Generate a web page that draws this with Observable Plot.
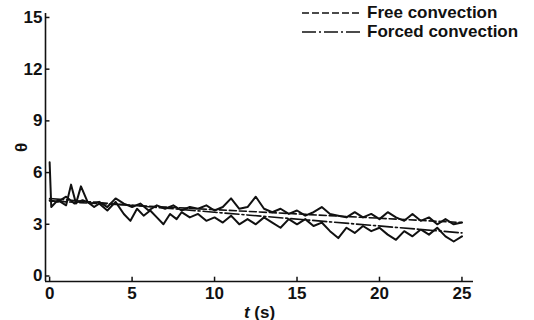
<!DOCTYPE html>
<html><head><meta charset="utf-8">
<script src="https://cdn.jsdelivr.net/npm/d3@7"></script>
<script src="https://cdn.jsdelivr.net/npm/@observablehq/plot@0.6"></script>
<style>
body{margin:0;background:#fff;}
#wrap{position:relative;width:534px;height:320px;font-family:"Liberation Sans",Arial,sans-serif;font-weight:bold;}
#legend{position:absolute;left:302px;top:3px;font-size:17px;color:#111;line-height:19px;}
.row{display:flex;align-items:center;height:19px;white-space:nowrap;}
.row svg{margin-right:5px;}
</style></head><body><div id="wrap"><div id="legend"></div></div>
<script>
const xTicks = [0, 5, 10, 15, 20, 25];
const yTicks = [0, 3, 6, 9, 12, 15];

const tFree = [0,0.5,1,1.5,2,2.5,3,3.5,4,4.5,5,5.5,6,6.5,7,7.5,8,8.5,9,9.5,10,10.5,11,11.5,12,12.5,13,13.5,14,14.5,15,15.5,16,16.5,17,17.5,18,18.5,19,19.5,20,20.5,21,21.5,22,22.5,23,23.5,24,24.5,25];
const thetaFree = [4.4,4.3,4.6,4.2,4.4,4.2,4.3,4.0,4.5,4.2,4.0,4.2,3.8,4.1,3.9,4.1,3.8,4.0,3.9,4.1,3.8,4.0,4.5,3.9,4.0,4.6,3.9,3.7,3.9,3.6,3.8,3.5,3.7,4.0,3.6,3.5,3.4,3.7,3.4,3.6,3.3,3.7,3.4,3.2,3.6,3.2,3.4,3.0,3.3,3.0,3.1];

const tForced = [0,0.1,0.5,1,1.3,1.6,1.9,2.3,2.7,3,3.5,4,4.5,4.9,5.3,5.7,6.1,6.5,6.9,7.3,7.7,8,8.5,9,9.5,10,10.5,11,11.5,12,12.5,13,13.5,14,14.5,15,15.5,16,16.5,17,17.5,18,18.5,19,19.5,20,20.5,21,21.5,22,22.5,23,23.5,24,24.5,25];
const thetaForced = [6.6,4.0,4.4,4.1,5.3,4.2,5.2,4.3,4.0,4.2,3.8,4.3,3.6,3.2,3.9,3.5,3.8,3.4,3.0,3.6,3.3,3.7,3.4,3.6,3.2,3.4,3.1,3.5,3.0,3.3,3.0,3.4,3.1,2.8,3.3,3.0,3.3,2.9,3.1,2.6,2.2,2.8,2.5,2.9,2.6,2.8,2.4,2.1,2.6,2.3,2.7,2.4,2.8,2.3,2.0,2.3];

const fitT = [0, 25];
const fitFree = [4.35, 3.1];
const fitForced = [4.5, 2.5];

const seriesLabels = ["Free convection", "Forced convection"];

const ink = "#111";
const free = tFree.map((t, i) => ({t, v: thetaFree[i]}));
const forced = tForced.map((t, i) => ({t, v: thetaForced[i]}));
const fFree = fitT.map((t, i) => ({t, v: fitFree[i]}));
const fForced = fitT.map((t, i) => ({t, v: fitForced[i]}));

const x0 = -0.25, x1 = 25.7, y0 = -0.32, y1 = 15.23;

const plot = Plot.plot({
  width: 534, height: 320,
  marginLeft: 45, marginRight: 61, marginTop: 13, marginBottom: 39,
  x: {domain: [x0, x1]},
  y: {domain: [y0, y1]},
  style: {fontSize: "17px", fontFamily: "Liberation Sans, Arial, sans-serif", fontWeight: "bold", color: ink, background: "#fff", overflow: "visible"},
  marks: [
    Plot.axisX({ticks: xTicks, tickSize: 0, tickPadding: 5, tickFormat: d => String(d), label: "t (s)", labelAnchor: "center", labelOffset: 36, labelArrow: "none"}),
    Plot.axisY({ticks: yTicks, tickSize: 0, tickPadding: 3, tickFormat: d => String(d), label: "θ", labelAnchor: "center", labelOffset: 31, labelArrow: "none"}),
    Plot.ruleX([x0], {y1: y0, y2: y1, stroke: ink, strokeWidth: 1.6}),
    Plot.ruleY([y0], {x1: x0, x2: x1, stroke: ink, strokeWidth: 1.6}),
    Plot.ruleX(xTicks, {x: d => d, y1: y0, y2: y0 + 0.25, stroke: ink, strokeWidth: 1.5}),
    Plot.ruleY(yTicks, {y: d => d, x1: x0, x2: x0 + 0.27, stroke: ink, strokeWidth: 1.5}),
    Plot.line(free, {x: "t", y: "v", stroke: ink, strokeWidth: 2, strokeLinejoin: "round"}),
    Plot.line(forced, {x: "t", y: "v", stroke: ink, strokeWidth: 2, strokeLinejoin: "round"}),
    Plot.line(fFree, {x: "t", y: "v", stroke: ink, strokeWidth: 1.6, strokeDasharray: "7,3"}),
    Plot.line(fForced, {x: "t", y: "v", stroke: ink, strokeWidth: 1.6, strokeDasharray: "14,3,2,3"})
  ]
});

// italic t in x label
plot.querySelectorAll("text").forEach(el => {
  if (el.textContent === "t (s)") {
    el.innerHTML = '<tspan font-style="italic">t</tspan> (s)';
  }
});

document.getElementById("wrap").prepend(plot);

const dashes = ["7,3", "14,3,2,3"];
const legend = document.getElementById("legend");
seriesLabels.forEach((lab, i) => {
  const row = document.createElement("div");
  row.className = "row";
  row.innerHTML = `<svg width="60" height="6"><line x1="0" y1="3" x2="60" y2="3" stroke="${ink}" stroke-width="1.6" stroke-dasharray="${dashes[i]}"/></svg><span>${lab}</span>`;
  legend.appendChild(row);
});
</script>
</body></html>
